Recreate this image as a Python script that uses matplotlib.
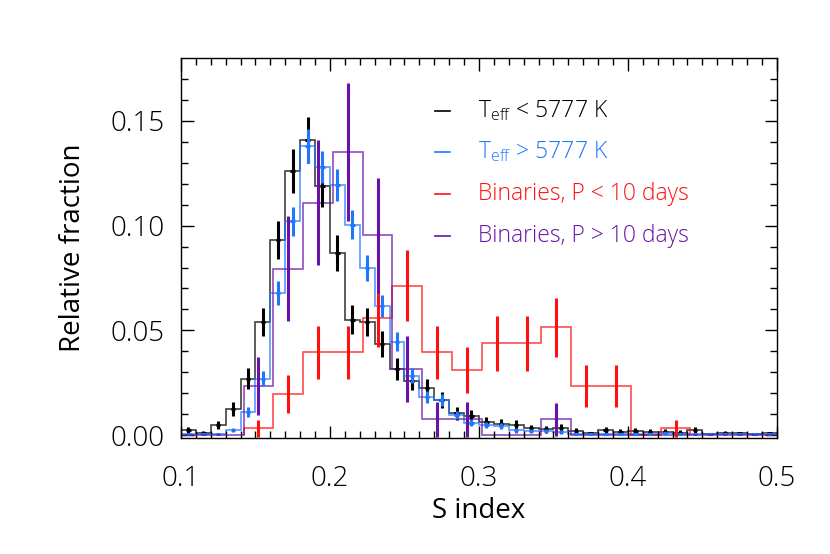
import numpy as np
import matplotlib
matplotlib.use("Agg")
import matplotlib.pyplot as plt

# single stars, 0.01 bins starting at S = 0.10
s_edges = np.round(np.arange(0.10, 0.5001, 0.01), 3)
cool_frac = [0.0024, 0.0011, 0.0048, 0.0124, 0.027, 0.054, 0.093, 0.126, 0.141, 0.119,
             0.087, 0.055, 0.054, 0.0435, 0.0315, 0.026, 0.0225, 0.0167, 0.0104, 0.0091,
             0.0062, 0.0055, 0.005, 0.0033, 0.0027, 0.0034, 0.002, 0.0008, 0.0025, 0.0016,
             0.002, 0.0017, 0.0017, 0.0012, 0.0024, 0.0003, 0.001, 0.0008, 0.0003, 0.0008]
cool_err = [0.0015, 0.001, 0.002, 0.0033, 0.0048, 0.0068, 0.009, 0.0104, 0.011, 0.0101,
            0.0087, 0.0069, 0.0068, 0.0061, 0.0052, 0.0047, 0.0044, 0.0038, 0.003, 0.0028,
            0.0023, 0.0022, 0.002, 0.0017, 0.0015, 0.0017, 0.0013, 0.0008, 0.0015, 0.0012,
            0.0013, 0.0012, 0.0012, 0.001, 0.0014, 0.0005, 0.0009, 0.0008, 0.0005, 0.0008]
hot_frac = [0.0003, 0.0005, 0.0005, 0.0024, 0.011, 0.027, 0.068, 0.102, 0.138, 0.128,
            0.1195, 0.1005, 0.080, 0.0617, 0.0446, 0.0284, 0.0182, 0.0167, 0.0096, 0.0059,
            0.0048, 0.0042, 0.0022, 0.0019, 0.0019, 0.0016, 0.0005, 0.0006, 0.0004, 0.0005,
            0.0004, 0.0005, 0.0008, 0.0004, 0.0005, 0.0003, 0.0004, 0.0003, 0.0004, 0.0003]
hot_err = [0.0004, 0.0005, 0.0005, 0.001, 0.0023, 0.0036, 0.0057, 0.007, 0.0081, 0.0078,
           0.0075, 0.0069, 0.0062, 0.0054, 0.0046, 0.0037, 0.003, 0.0028, 0.0021, 0.0017,
           0.0015, 0.0014, 0.001, 0.001, 0.001, 0.0009, 0.0005, 0.0005, 0.0004, 0.0005,
           0.0004, 0.0005, 0.0006, 0.0004, 0.0005, 0.0004, 0.0004, 0.0004, 0.0004, 0.0004]

# binaries, 0.02 bins starting at S = 0.142
b_edges = np.round(np.arange(0.142, 0.4421, 0.02), 3)
short_frac = [0.0033, 0.0195, 0.0395, 0.0395, 0.0557, 0.0714, 0.0395, 0.031,
              0.0438, 0.0438, 0.0514, 0.0233, 0.0233, 0.0, 0.0033]
short_err = [0.004, 0.009, 0.0125, 0.0125, 0.0136, 0.017, 0.0125, 0.011,
             0.013, 0.013, 0.0143, 0.01, 0.01, 0.0, 0.004]
long_frac = [0.0234, 0.0794, 0.111, 0.1353, 0.0954, 0.0316, 0.0075, 0.0075,
             0.0, 0.0, 0.0075, 0.0, 0.0, 0.0, 0.0]
long_err = [0.014, 0.025, 0.030, 0.033, 0.0275, 0.0158, 0.0085, 0.0085,
            0.0, 0.0, 0.008, 0.0, 0.0, 0.0, 0.0]

labels = [r"$\mathregular{T_{eff}}$ < 5777 K", r"$\mathregular{T_{eff}}$ > 5777 K",
          "Binaries, P < 10 days", "Binaries, P > 10 days"]
colors = ["black", "#1e78ff", "#ff1010", "#6a12a8"]

plt.rcParams["font.family"] = ["Open Sans", "DejaVu Sans"]
plt.rcParams["font.weight"] = "light"
plt.rcParams["mathtext.default"] = "regular"

fig = plt.figure(figsize=(8.3, 5.54), dpi=100)
ax = fig.add_axes([0.218, 0.209, 0.718, 0.686])

series = [
    (s_edges, cool_frac, cool_err, 0.0015),
    (s_edges, hot_frac, hot_err, 0.0015),
    (b_edges, short_frac, short_err, 0.0),
    (b_edges, long_frac, long_err, 0.0),
]
for (edges, frac, err, xerr), col in zip(series, colors):
    frac = np.asarray(frac)
    err = np.asarray(err)
    ax.stairs(frac, edges, color=col, lw=1.2, alpha=0.75, baseline=0)
    centers = 0.5 * (edges[:-1] + edges[1:])
    keep = err > 0
    ax.errorbar(centers[keep], frac[keep], yerr=err[keep],
                xerr=xerr if xerr else None, fmt="none", ecolor=col,
                elinewidth=2.2, capsize=0)

# purple runs along the floor outside the binaries' bins
ax.plot([0.10, b_edges[0]], [0, 0], color=colors[3], lw=1.2, alpha=0.75)
ax.plot([b_edges[-1], 0.50], [0, 0], color=colors[3], lw=1.2, alpha=0.75)

ax.set_xlim(0.1, 0.5)
ax.set_ylim(-0.0015, 0.18)
ax.set_xticks([0.1, 0.2, 0.3, 0.4, 0.5])
ax.set_xticklabels(["0.1", "0.2", "0.3", "0.4", "0.5"])
ax.set_xticks(np.arange(0.1, 0.5, 0.01), minor=True)
ax.set_yticks([0.0, 0.05, 0.10, 0.15])
ax.set_yticklabels(["0.00", "0.05", "0.10", "0.15"])
ax.set_yticks(np.arange(0.0, 0.18, 0.01), minor=True)
ax.tick_params(which="both", direction="in", top=True, right=True, width=1.0)
ax.tick_params(which="major", length=9, labelsize=20)
ax.tick_params(which="minor", length=5)
ax.tick_params(axis="y", pad=12)
ax.tick_params(axis="x", pad=19)
for sp in ax.spines.values():
    sp.set_linewidth(1.0)

ax.set_xlabel("S index", fontsize=20, labelpad=3)
ax.set_ylabel("Relative fraction", fontsize=20, labelpad=17)

ys = [0.861, 0.753, 0.642, 0.532]
for lab, col, y in zip(labels, colors, ys):
    ax.plot([0.426, 0.451], [y, y], color=col, lw=1.2, transform=ax.transAxes)
    ax.text(0.498, y, lab, color=col, fontsize=16.5, va="center", ha="left",
            transform=ax.transAxes)

fig.savefig("out.png", dpi=100)
